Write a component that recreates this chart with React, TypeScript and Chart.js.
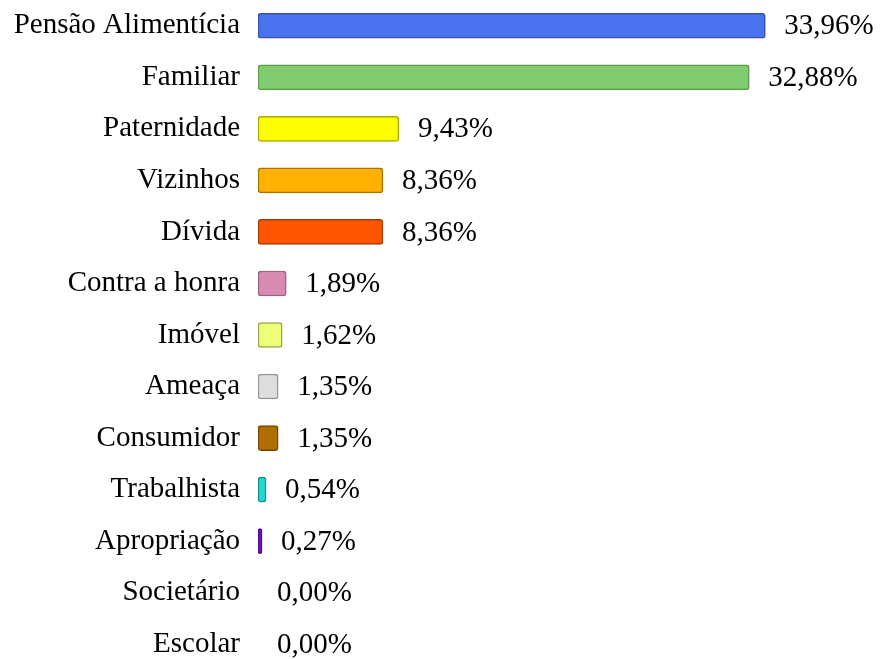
import React, { useEffect, useRef } from "react";
import { Chart, registerables } from "chart.js";

Chart.register(...registerables);

const categories = [
  "Pensão Alimentícia",
  "Familiar",
  "Paternidade",
  "Vizinhos",
  "Dívida",
  "Contra a honra",
  "Imóvel",
  "Ameaça",
  "Consumidor",
  "Trabalhista",
  "Apropriação",
  "Societário",
  "Escolar",
];

const values = [33.96, 32.88, 9.43, 8.36, 8.36, 1.89, 1.62, 1.35, 1.35, 0.54, 0.27, 0.0, 0.0];

const fillColors = [
  "#4a72ee",
  "#80cc6e",
  "#ffff00",
  "#ffb000",
  "#ff5500",
  "#d88ab0",
  "#eeff77",
  "#dddddd",
  "#b06e00",
  "#22d8d2",
  "#6a10c8",
  "#cccccc",
  "#cccccc",
];

const borderColors = [
  "#3452b0",
  "#5c9a50",
  "#a8a800",
  "#a87400",
  "#a83a00",
  "#9c6282",
  "#9aa646",
  "#959595",
  "#744800",
  "#15908a",
  "#4c0a90",
  "#999999",
  "#999999",
];

const FONT = "'Liberation Serif', 'Times New Roman', serif";
const FONT_SIZE = 29;

const valueLabels = {
  id: "valueLabels",
  afterDatasetsDraw(chart: any) {
    const ctx = chart.ctx;
    const meta = chart.getDatasetMeta(0);
    ctx.save();
    ctx.font = `${FONT_SIZE}px ${FONT}`;
    ctx.fillStyle = "#000";
    ctx.textAlign = "left";
    ctx.textBaseline = "middle";
    meta.data.forEach((bar: any, i: number) => {
      const v = values[i];
      const txt = v.toFixed(2).replace(".", ",") + "%";
      ctx.fillText(txt, bar.x + 19, bar.y + 1);
    });
    ctx.restore();
  },
};

export default function App() {
  const ref = useRef<HTMLCanvasElement>(null);

  useEffect(() => {
    document.documentElement.style.overflow = "hidden";
    document.body.style.margin = "0";
    document.body.style.overflow = "hidden";
    const chart = new Chart(ref.current as HTMLCanvasElement, {
      type: "bar",
      data: {
        labels: categories,
        datasets: [
          {
            data: values,
            backgroundColor: fillColors,
            borderColor: borderColors,
            borderWidth: 1.5,
            borderRadius: 3,
            borderSkipped: false,
            barThickness: 25,
          },
        ],
      },
      options: {
        indexAxis: "y",
        animation: false,
        responsive: false,
        maintainAspectRatio: false,
        layout: { padding: 0 },
        plugins: {
          legend: { display: false },
          tooltip: { enabled: false },
        },
        scales: {
          x: {
            display: false,
            min: 0,
            max: 41.7,
          },
          y: {
            grid: { display: false, drawTicks: false },
            border: { display: false },
            ticks: {
              color: "#000",
              padding: 18,
              autoSkip: false,
              font: { family: FONT, size: FONT_SIZE },
            },
            afterFit: (scale: any) => {
              scale.width = 258;
              scale.paddingTop = 0;
              scale.paddingBottom = 0;
            },
          },
        },
      },
      plugins: [valueLabels],
    });
    return () => chart.destroy();
  }, []);

  return (
    <div style={{ position: "fixed", left: 0, top: 0, width: 881, height: 670, background: "#fff" }}>
      <canvas ref={ref} width={881} height={670} style={{ display: "block" }} />
    </div>
  );
}
